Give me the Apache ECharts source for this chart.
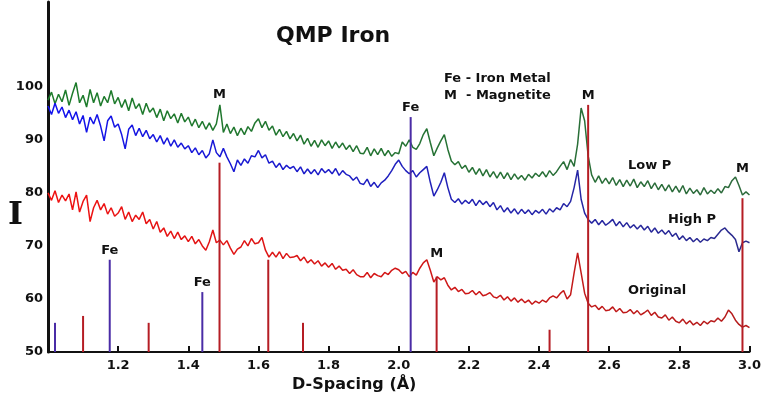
<!DOCTYPE html>
<html>
<head>
<meta charset="utf-8">
<title>QMP Iron</title>
<script src="https://cdn.jsdelivr.net/npm/echarts@6/dist/echarts.min.js"></script>
<style>
  html, body { margin: 0; padding: 0; background: #fff; }
  #chart { width: 764px; height: 397px; }
</style>
</head>
<body>
<div id="chart"></div>
<script>
// d-spacing grid of the scans: 1.00 .. 3.00 step 0.01
const dStart = 1.0
const dStep = 0.01

const lowP = [
  97.5, 99.0, 96.8, 98.6, 97.2, 99.4, 96.5, 98.8, 100.8, 97.0,
  98.4, 96.2, 99.5, 97.0, 98.9, 96.4, 98.2, 97.0, 99.3, 96.8,
  98.0, 96.1, 97.6, 95.5, 97.9, 95.9, 96.8, 94.8, 96.9, 95.2,
  96.0, 94.2, 95.8, 93.6, 95.5, 94.0, 94.9, 93.2, 95.0, 93.4,
  94.3, 92.6, 93.9, 92.3, 93.5, 92.0, 93.2, 91.8, 93.0, 96.6,
  91.4, 93.0, 91.2, 92.4, 90.8, 92.2, 91.0, 92.5, 91.6, 93.2,
  94.0, 92.3, 93.5, 91.8, 92.6, 90.9, 92.0, 90.6, 91.6, 90.2,
  91.2, 89.8, 90.9, 89.2, 90.3, 88.8, 89.9, 88.6, 90.0, 88.9,
  89.8, 88.4, 89.6, 88.5, 89.4, 88.2, 89.0, 87.8, 88.9, 87.5,
  87.4, 88.6, 87.0, 88.3, 87.2, 88.4, 87.0, 88.0, 86.9, 87.6,
  87.4, 89.6, 88.8, 90.0, 88.6, 88.2, 89.3, 91.0, 92.1, 89.5,
  87.0, 88.5, 89.8, 91.0, 88.2, 86.0, 85.3, 85.9, 84.6, 85.2,
  83.9, 84.8, 83.5, 84.6, 83.2, 84.4, 83.0, 84.0, 82.8, 83.9,
  82.7, 83.8, 82.5, 83.6, 82.6, 83.3, 82.4, 83.5, 82.8, 83.7,
  83.1, 84.0, 83.0, 84.2, 83.3, 84.0, 85.0, 85.9, 84.4, 86.3,
  85.0, 89.2, 96.0, 93.6, 87.0, 83.4, 82.0, 83.2, 81.8, 82.8,
  81.7, 82.9, 81.4, 82.5, 81.2, 82.4, 81.3, 82.6, 81.0, 82.1,
  81.2, 82.3, 80.8, 81.9, 80.6, 81.6, 80.4, 81.5, 80.2, 81.3,
  80.1, 81.4, 79.8, 80.9, 79.9, 80.6, 79.6, 81.0, 79.8, 80.5,
  79.9, 80.8, 80.0, 81.2, 81.0, 82.3, 83.0, 81.4, 79.6, 80.2,
  79.6
]

const highP = [
  96.4, 94.8, 96.9, 95.0, 96.2, 94.2, 95.6, 93.8, 95.3, 93.0,
  94.6, 91.4, 94.3, 93.0, 94.8, 92.6, 89.8, 93.6, 94.5, 92.4,
  93.0, 91.0, 88.3, 92.0, 92.8, 90.8, 92.2, 90.6, 91.8, 90.2,
  91.0, 89.6, 90.8, 89.2, 90.4, 88.8, 90.0, 88.6, 89.4, 88.3,
  88.9, 87.6, 88.5, 87.2, 88.0, 86.6, 87.4, 90.0, 87.6, 86.8,
  88.4, 86.8, 85.5, 84.0, 86.2, 85.2, 86.4, 85.6, 87.0, 86.8,
  88.0, 86.6, 87.2, 85.6, 86.0, 84.8, 85.6, 84.4, 85.2, 84.6,
  85.0, 84.0, 84.9, 83.6, 84.5, 83.6, 84.4, 83.4, 84.6, 83.8,
  84.4, 83.6, 84.6, 83.3, 84.2, 83.5, 83.2, 82.4, 83.0, 81.8,
  81.6, 82.6, 81.2, 82.0, 81.0, 81.9, 82.4, 83.2, 84.2, 85.4,
  86.2, 85.0, 84.2, 83.6, 84.2, 83.0, 83.8, 84.4, 85.0, 82.0,
  79.4, 80.6, 82.0, 83.8, 81.0, 78.8, 78.2, 78.9, 77.9, 78.6,
  78.0, 78.8, 77.6, 78.6, 77.8, 78.4, 77.4, 78.2, 76.8, 77.6,
  76.4, 77.2, 76.2, 77.0, 76.0, 76.9, 76.1, 76.8, 75.9, 76.7,
  76.2, 76.9, 76.0, 77.0, 76.4, 77.2, 76.8, 78.0, 77.4, 78.4,
  81.0, 84.3, 78.8, 76.2, 75.0, 74.3, 75.0, 74.0, 74.8, 73.9,
  74.4, 75.0, 73.8, 74.6, 73.6, 74.4, 73.4, 74.0, 73.2, 73.9,
  73.0, 73.7, 72.6, 73.4, 72.4, 73.0, 72.2, 72.9, 71.8, 72.4,
  71.2, 71.9, 71.0, 71.6, 70.8, 71.4, 70.7, 71.3, 71.0, 71.6,
  71.4, 72.2, 73.0, 73.4, 72.6, 72.0, 71.2, 68.9, 70.6, 70.9,
  70.6
]

const original = [
  80.0, 78.6, 80.4, 78.2, 79.6, 78.5, 79.8, 76.8, 80.2, 76.4,
  78.4, 79.6, 74.6, 77.2, 78.6, 76.8, 78.0, 76.0, 77.2, 75.6,
  76.2, 77.4, 75.0, 76.4, 74.6, 75.8, 75.0, 76.4, 74.2, 75.0,
  73.2, 74.6, 72.6, 73.4, 71.8, 72.8, 71.4, 72.6, 71.2, 71.9,
  70.8, 71.8, 70.4, 71.2, 70.0, 69.2, 70.8, 73.0, 70.6, 71.1,
  70.2, 71.0, 69.6, 68.4, 69.4, 69.8, 71.0, 70.0, 71.4, 70.4,
  70.6, 71.6, 69.2, 67.9, 68.8, 67.9, 68.9, 67.6, 68.6, 67.8,
  67.9, 68.2, 67.2, 67.9, 66.8, 67.4, 66.6, 67.2, 66.2, 66.8,
  66.0, 66.7, 65.6, 66.2, 65.4, 65.6, 64.8, 65.5, 64.6, 64.2,
  64.2, 65.0, 64.0, 64.8, 64.4, 64.2, 65.0, 64.6, 65.4, 65.8,
  65.5, 64.8, 65.2, 64.2, 65.0, 64.5, 65.8, 66.8, 67.4, 65.4,
  63.2, 64.2, 63.6, 64.0, 62.6, 61.7, 62.2, 61.4, 61.8, 61.0,
  61.1, 61.6, 60.8, 61.4, 60.6, 60.8, 61.2, 60.4, 60.2, 60.7,
  59.8, 60.4, 59.6, 60.2, 59.4, 60.0, 59.3, 59.8, 59.0, 59.6,
  59.2, 59.8, 59.4, 60.2, 60.6, 60.2, 61.0, 61.6, 60.0, 60.8,
  64.9, 68.7, 64.9, 61.1, 59.2, 58.5, 58.8, 58.0, 58.6, 57.8,
  57.9, 58.5, 57.6, 58.2, 57.4, 57.5, 58.0, 57.2, 57.8, 57.0,
  57.4, 57.9, 56.9, 57.5, 56.6, 56.4, 57.0, 56.0, 56.6, 55.8,
  55.5, 56.2, 55.3, 55.9, 55.1, 55.6, 55.0, 55.8, 55.3, 55.9,
  55.7, 56.4, 55.8, 56.6, 57.9, 57.2, 56.0, 55.2, 54.7, 55.0,
  54.6
]

// reference peak sticks
const stickD      = [1.02, 1.10, 1.176, 1.287, 1.44, 1.489, 1.628, 1.727, 2.034, 2.108, 2.43, 2.54, 2.98]
const stickHeight = [55.5, 56.8, 67.4,  55.5,  61.3, 85.7,  67.4,  55.5,  94.3,  64.2,  54.2, 96.6, 79.0]
const stickPhase  = ['Fe', 'M', 'Fe',  'M',   'Fe', 'M',   'M',   'M',   'Fe',  'M',   'M',  'M',  'M']
const stickLabel  = [false, false, true, false, true, true, false, false, true, true, false, true, true]

const xTicks = [1.2, 1.4, 1.6, 1.8, 2.0, 2.2, 2.4, 2.6, 2.8, 3.0]
const yTicks = [50, 60, 70, 80, 90, 100]

const toPairs = vals => vals.map((v, i) => [+(dStart + i * dStep).toFixed(2), v])

const fadeColor = (from, to) => new echarts.graphic.LinearGradient(0, 0, 1, 0, [
  { offset: 0, color: from },
  { offset: 1, color: to }
])

// label offsets above stick tops (pixels)
const labelGap = { 1.489: 62, 2.108: 17, 2.98: 23 }

const sticks = stickD.map((d, i) => ({
  value: [d, stickHeight[i]],
  itemStyle: { color: stickPhase[i] === 'Fe' ? '#4a2ca6' : '#b51d24' },
  label: {
    show: stickLabel[i],
    position: 'top',
    distance: labelGap[d] || 3,
    formatter: stickPhase[i]
  }
}))

const font = '"DejaVu Sans", sans-serif'

const myChart = echarts.init(document.getElementById('chart'))
const option = {
  animation: false,
  backgroundColor: '#fff',
  grid: { left: 48, right: 12, top: 2, bottom: 45 },
  title: {
    text: 'QMP Iron',
    left: 271,
    top: 20,
    textStyle: { fontFamily: font, fontSize: 22, fontWeight: 'bold', color: '#111' }
  },
  xAxis: {
    type: 'value',
    min: 1.0,
    max: 3.0,
    interval: 0.2,
    axisLine: { lineStyle: { color: '#111', width: 2 } },
    axisTick: { inside: true, length: 6, lineStyle: { color: '#111', width: 2 } },
    splitLine: { show: false },
    axisLabel: {
      margin: 7,
      fontFamily: font,
      fontSize: 13,
      fontWeight: 'bold',
      color: '#111',
      formatter: v => (xTicks.some(t => Math.abs(t - v) < 1e-6) ? v.toFixed(1) : '')
    }
  },
  yAxis: {
    type: 'value',
    min: 50,
    max: 116,
    interval: 10,
    axisLine: { show: true, lineStyle: { color: '#111', width: 3 } },
    axisTick: { show: false },
    splitLine: { show: false },
    axisLabel: {
      margin: 5,
      fontFamily: font,
      fontSize: 13,
      fontWeight: 'bold',
      color: '#111',
      formatter: v => (yTicks.indexOf(v) >= 0 ? String(v) : '')
    }
  },
  graphic: [
    { type: 'text', left: 8, top: 200, style: { text: 'I', font: 'bold 32px "DejaVu Serif", serif', fill: '#111' } },
    { type: 'text', left: 292, top: 377, style: { text: 'D-Spacing (Å)', font: 'bold 16px ' + font, fill: '#111' } },
    { type: 'text', left: 444, top: 72, style: { text: 'Fe - Iron Metal', font: 'bold 13px ' + font, fill: '#111' } },
    { type: 'text', left: 444, top: 89, style: { text: 'M  - Magnetite', font: 'bold 13px ' + font, fill: '#111' } },
    { type: 'text', left: 628, top: 159, style: { text: 'Low P', font: 'bold 13px ' + font, fill: '#111' } },
    { type: 'text', left: 668, top: 213, style: { text: 'High P', font: 'bold 13px ' + font, fill: '#111' } },
    { type: 'text', left: 628, top: 284, style: { text: 'Original', font: 'bold 13px ' + font, fill: '#111' } }
  ],
  series: [
    {
      name: 'Low P',
      type: 'line',
      showSymbol: false,
      data: toPairs(lowP),
      lineStyle: { width: 1.5, color: fadeColor('#1c7c2a', '#2d6a3c') },
      z: 2
    },
    {
      name: 'High P',
      type: 'line',
      showSymbol: false,
      data: toPairs(highP),
      lineStyle: { width: 1.5, color: fadeColor('#1212ee', '#2c2c8c') },
      z: 2
    },
    {
      name: 'Original',
      type: 'line',
      showSymbol: false,
      data: toPairs(original),
      lineStyle: { width: 1.5, color: fadeColor('#f01212', '#b41c1c') },
      z: 2
    },
    {
      name: 'Peaks',
      type: 'bar',
      barWidth: 2,
      data: sticks,
      label: { fontFamily: font, fontSize: 13, fontWeight: 'bold', color: '#111' },
      z: 3
    }
  ]
}
myChart.setOption(option)
</script>
</body>
</html>
